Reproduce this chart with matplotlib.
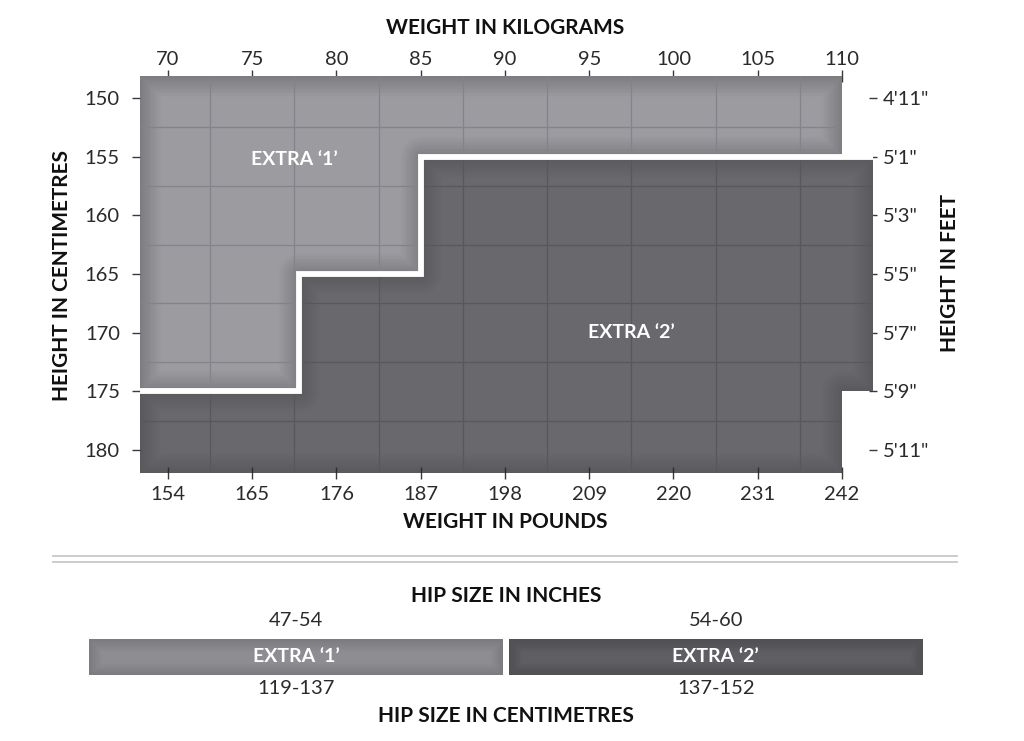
import matplotlib
matplotlib.use("Agg")
import matplotlib.pyplot as plt
from matplotlib.patches import Polygon

plt.rcParams['font.family'] = ['Lato', 'DejaVu Sans']

# ---------------- data ----------------
kg_ticks = [70, 75, 80, 85, 90, 95, 100, 105, 110]
lb_labels = ["154", "165", "176", "187", "198", "209", "220", "231", "242"]
cm_ticks = [150, 155, 160, 165, 170, 175, 180]
ft_labels = ["4'11\"", "5'1\"", "5'3\"", "5'5\"", "5'7\"", "5'9\"", "5'11\""]
grid_kg = [72.5, 77.5, 82.5, 87.5, 92.5, 97.5, 102.5, 107.5]
grid_cm = [152.5, 157.5, 162.5, 167.5, 172.5, 177.5]

# boundary between EXTRA '1' (above) and EXTRA '2' (below)
step_kg = [77.75, 85.0]
step_cm = [175, 165, 155]

size_names = ["EXTRA \u20181\u2019", "EXTRA \u20182\u2019"]
label_kg = [77.5, 97.5]
label_cm = [155.2, 170]

hip_inches = ["47-54", "54-60"]
hip_cm = ["119-137", "137-152"]

# ---------------- layout ----------------
W, H = 1024, 741
fig = plt.figure(figsize=(W / 100, H / 100), dpi=100)

def fx(px):
    return px / W

def fy(py):
    return 1 - py / H

x_min, x_max = 68.34, 111.84
kg_max = 110
y_top, y_bot = 148.125, 181.96

ax = fig.add_axes([fx(140), fy(473), (873 - 140) / W, (473 - 76) / H])
ax.set_xlim(x_min, x_max)
ax.set_ylim(y_bot, y_top)

light = "#9c9ba0"
dark = "#69686d"

light_verts = [(x_min, y_top), (kg_max, y_top), (kg_max, step_cm[2]), (step_kg[1], step_cm[2]),
               (step_kg[1], step_cm[1]), (step_kg[0], step_cm[1]), (step_kg[0], step_cm[0]),
               (x_min, step_cm[0])]
dark_verts = [(x_min, step_cm[0]), (step_kg[0], step_cm[0]), (step_kg[0], step_cm[1]),
              (step_kg[1], step_cm[1]), (step_kg[1], step_cm[2]), (x_max, step_cm[2]),
              (x_max, step_cm[0]), (kg_max, step_cm[0]), (kg_max, y_bot), (x_min, y_bot)]


def shaded_region(verts, face, gcol):
    patch = Polygon(verts, closed=True, facecolor=face, edgecolor="none", zorder=1)
    ax.add_patch(patch)
    # soft inner shadow along the edges
    for lw in range(2, 32, 2):
        sh = Polygon(verts, closed=True, facecolor="none", edgecolor="black",
                     linewidth=lw, alpha=0.009, zorder=2, joinstyle="round")
        ax.add_patch(sh)
        sh.set_clip_path(patch)
    vl = ax.vlines(grid_kg, y_top, y_bot, colors=gcol, linewidth=0.9, zorder=3)
    vl.set_clip_path(patch)
    hl = ax.hlines(grid_cm, x_min, x_max, colors=gcol, linewidth=0.9, zorder=3)
    hl.set_clip_path(patch)
    return patch


shaded_region(light_verts, light, "#848389")
shaded_region(dark_verts, dark, "#58575c")

# white boundary line
bx = [x_min, step_kg[0], step_kg[0], step_kg[1], step_kg[1], x_max]
by = [step_cm[0], step_cm[0], step_cm[1], step_cm[1], step_cm[2], step_cm[2]]
ax.plot(bx, by, color="white", linewidth=4.2, solid_joinstyle="miter",
        solid_capstyle="butt", zorder=4)

for name, lx, ly in zip(size_names, label_kg, label_cm):
    ax.text(lx, ly, name, color="white", fontsize=14, fontweight="bold",
            ha="center", va="center", zorder=5)

tick_col = "#3a3a3a"
lab_col = "#2a2a2a"
tick_font = dict(fontsize=14.5, fontweight="normal", color=lab_col)

# bottom axis: pounds
ax.set_xticks(kg_ticks)
ax.set_xticklabels(lb_labels, **tick_font)
ax.tick_params(axis="x", direction="inout", length=8, width=1, color=tick_col, pad=5)
# left axis: centimetres
ax.set_yticks(cm_ticks)
ax.set_yticklabels([str(v) for v in cm_ticks], **tick_font)
ax.tick_params(axis="y", direction="out", length=5.5, width=1, color=tick_col, pad=9)
for s in ax.spines.values():
    s.set_visible(False)

# top axis: kilograms
secx = ax.secondary_xaxis("top")
secx.set_xticks(kg_ticks)
secx.set_xticklabels([str(v) for v in kg_ticks], **tick_font)
secx.tick_params(direction="inout", length=8, width=1, color=tick_col, pad=1.5)
for s in secx.spines.values():
    s.set_visible(False)

# right axis: feet
secy = ax.secondary_yaxis("right")
secy.set_yticks(cm_ticks)
secy.set_yticklabels(ft_labels, **tick_font)
secy.tick_params(direction="inout", length=6, width=1, color=tick_col, pad=4)
for s in secy.spines.values():
    s.set_visible(False)

title_font = dict(fontsize=15, fontweight="bold", color="#111111")
fig.text(fx(505), fy(27.5), "WEIGHT IN KILOGRAMS", ha="center", va="center", **title_font)
fig.text(fx(505), fy(522.5), "WEIGHT IN POUNDS", ha="center", va="center", **title_font)
fig.text(fx(61.5), fy(275.5), "HEIGHT IN CENTIMETRES", ha="center", va="center",
         rotation=90, **title_font)
fig.text(fx(950), fy(273.5), "HEIGHT IN FEET", ha="center", va="center",
         rotation=90, **title_font)

# separator double line
for yy in (556, 562):
    fig.add_artist(plt.Line2D([fx(53), fx(957)], [fy(yy), fy(yy)], color="#c8c8c8",
                              linewidth=1.3))

# ---------------- hip size bars ----------------
axh = fig.add_axes([fx(89), fy(675), (923 - 89) / W, (675 - 639) / H])
axh.set_xlim(0.006, 1.994)
axh.set_ylim(0, 1)
axh.axis("off")
pos = [0.5, 1.5]
bars = axh.bar(pos, [1, 1], width=0.988, bottom=0, color=["#8e8d92", "#5f5e63"],
               edgecolor="none")
for b in bars:
    for lw in range(2, 20, 2):
        r = plt.Rectangle(b.get_xy(), b.get_width(), b.get_height(), facecolor="none",
                          edgecolor="black", linewidth=lw, alpha=0.012)
        axh.add_patch(r)
        r.set_clip_path(b)
for p, name, hin, hcm in zip(pos, size_names, hip_inches, hip_cm):
    axh.text(p, 0.5, name, color="white", fontsize=14, fontweight="bold",
             ha="center", va="center", zorder=5)
    axh.text(p, 1 + (639 - 620.5) / 36, hin, ha="center", va="center", clip_on=False,
             **tick_font)
    axh.text(p, -(688.5 - 675) / 36, hcm, ha="center", va="center", clip_on=False,
             **tick_font)

fig.text(fx(506), fy(595.5), "HIP SIZE IN INCHES", ha="center", va="center", **title_font)
fig.text(fx(506), fy(716.5), "HIP SIZE IN CENTIMETRES", ha="center", va="center", **title_font)

fig.savefig("out.png", dpi=100)
